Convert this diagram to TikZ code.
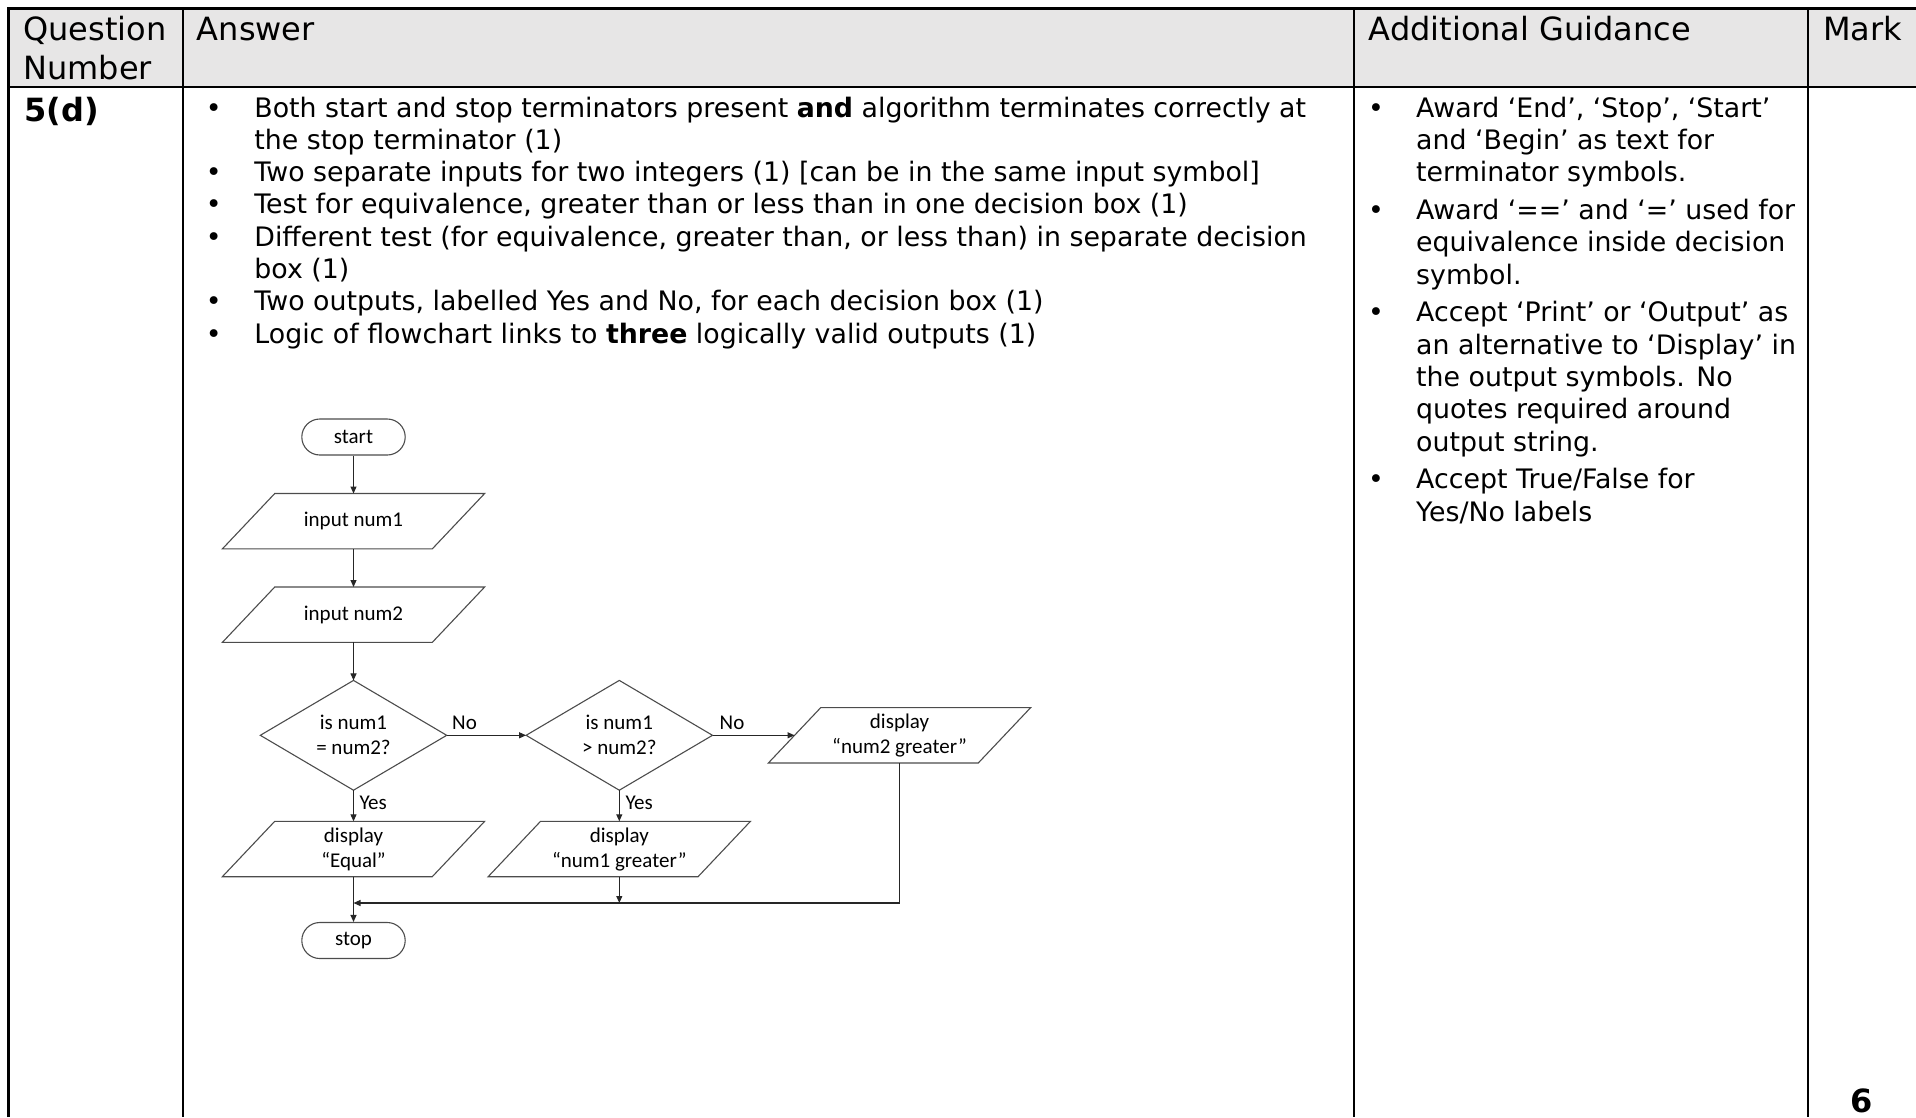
\documentclass[tikz,border=0pt]{standalone}
\usepackage{fontspec}
\setmainfont{DejaVu Sans}
\newfontfamily\fc{Carlito}
\usetikzlibrary{arrows.meta,calc}
\definecolor{hdr}{RGB}{231,230,230}
\tikzset{
  x=1pt,y=-1pt,
  txt/.style={anchor=base west, inner sep=0pt, font=\fontsize{26.8}{32}\selectfont},
  htxt/.style={anchor=base west, inner sep=0pt, font=\fontsize{32}{38}\selectfont},
  bul/.style={anchor=base, inner sep=0pt, font=\fontsize{26.8}{32}\selectfont},
  fbox/.style={inner sep=0pt, font=\fc\fontsize{21}{25}\selectfont, align=center},
  term/.style={fbox, draw=black!70, line width=1.1pt, rounded corners=18pt, minimum width=103.4pt, minimum height=36pt},
  pbox/.style={fbox, minimum width=209.5pt, minimum height=55pt},
  dbox/.style={fbox, minimum width=186pt, minimum height=109.4pt},
  shp/.style={draw=black!70, line width=1.1pt},
  conn/.style={draw=black!85, line width=1.1pt, -{Triangle[length=7pt,width=6pt]}},
  lbl/.style={font=\fc\fontsize{21}{25}\selectfont, inner sep=0pt},
  grid/.style={line width=2.5pt, black},
}
\newcommand\drawpara[1]{\draw[shp] ($(#1.north west)+(26.2,0)$) -- ($(#1.north east)+(26.2,0)$) -- ($(#1.south east)+(-26.2,0)$) -- ($(#1.south west)+(-26.2,0)$) -- cycle;}
\newcommand\drawdia[1]{\draw[shp] (#1.north) -- (#1.east) -- (#1.south) -- (#1.west) -- cycle;}
\begin{document}
\begin{tikzpicture}
\useasboundingbox (0,0) rectangle (1916,1117);
% table
\fill[hdr] (8.7,8.5) rectangle (1916,87);
\draw[grid] (8.7,1117) -- (8.7,8.5) -- (1916,8.5);
\draw[grid] (8.7,87) -- (1916,87);
\draw[grid] (183,8.5) -- (183,1117);
\draw[grid] (1354,8.5) -- (1354,1117);
\draw[grid] (1808,8.5) -- (1808,1117);
% header
\node[htxt] (hq) at (23.2,40.5) {Question};
\node[htxt] (hn) at (23.2,79) {Number};
\node[htxt] (ha) at (196.7,40.5) {Answer};
\node[htxt] (hg) at (1368.5,40.5) {Additional Guidance};
\node[htxt] (hm) at (1823,40.5) {Mark};
\node[htxt] (qn) at (24.4,121) {\bfseries 5(d)};
\node[htxt, anchor=base] (mk) at (1862,1112) {\bfseries 6};
% answer bullets
\node[bul] (ab1) at (213.8,117) {•};
\node[txt] (a1) at (254.2,117) {Both start and stop terminators present \textbf{and} algorithm terminates correctly at};
\node[txt] (a1b) at (254.2,149.3) {the stop terminator (1)};
\node[bul] (ab2) at (213.8,181.6) {•};
\node[txt] (a2) at (254.2,181.6) {Two separate inputs for two integers (1) [can be in the same input symbol]};
\node[bul] (ab3) at (213.8,213.9) {•};
\node[txt] (a3) at (254.2,213.9) {Test for equivalence, greater than or less than in one decision box (1)};
\node[bul] (ab4) at (213.8,246.2) {•};
\node[txt] (a4) at (254.2,246.2) {Different test (for equivalence, greater than, or less than) in separate decision};
\node[txt] (a4b) at (254.2,278.5) {box (1)};
\node[bul] (ab5) at (213.8,310.8) {•};
\node[txt] (a5) at (254.2,310.8) {Two outputs, labelled Yes and No, for each decision box (1)};
\node[bul] (ab6) at (213.8,343.1) {•};
\node[txt] (a6) at (254.2,343.1) {Logic of flowchart links to \textbf{three} logically valid outputs (1)};
% guidance bullets
\node[bul] (gb1) at (1376,117) {•};
\node[txt] (g1) at (1416,117) {Award ‘End’, ‘Stop’, ‘Start’};
\node[txt] (g1b) at (1416,149.3) {and ‘Begin’ as text for};
\node[txt] (g1c) at (1416,181.6) {terminator symbols.};
\node[bul] (gb2) at (1376,219.4) {•};
\node[txt] (g2) at (1416,219.4) {Award ‘==’ and ‘=’ used for};
\node[txt] (g2b) at (1416,251.7) {equivalence inside decision};
\node[txt] (g2c) at (1416,284) {symbol.};
\node[bul] (gb3) at (1376,321.8) {•};
\node[txt] (g3) at (1416,321.8) {Accept ‘Print’ or ‘Output’ as};
\node[txt] (g3b) at (1416,354.1) {an alternative to ‘Display’ in};
\node[txt] (g3c) at (1416,386.4) {the output symbols. No};
\node[txt] (g3d) at (1416,418.7) {quotes required around};
\node[txt] (g3e) at (1416,451) {output string.};
\node[bul] (gb4) at (1376,488.8) {•};
\node[txt] (g4) at (1416,488.8) {Accept True/False for};
\node[txt] (g4b) at (1416,521.1) {Yes/No labels};
% flowchart
\node[term] (start) at (353.5,437) {start};
\node[pbox] (in1) at (353.5,521.2) {input num1};
\node[pbox] (in2) at (353.5,614.7) {input num2};
\node[dbox] (d1) at (353.5,735.3) {is num1\\= num2?};
\node[dbox] (d2) at (619.3,735.3) {is num1\\> num2?};
\node[pbox] (o3) at (899.5,735.3) {display\\“num2 greater”};
\node[pbox] (o1) at (353.5,849) {display\\“Equal”};
\node[pbox] (o2) at (619.3,849) {display\\“num1 greater”};
\node[term] (stop) at (353.5,940.5) {stop};
\drawpara{in1}
\drawpara{in2}
\drawpara{o1}
\drawpara{o2}
\drawpara{o3}
\drawdia{d1}
\drawdia{d2}
\coordinate (j1) at (353.5,903);
\coordinate (j2) at (619.3,903);
\draw[conn] (start) -- (in1);
\draw[conn] (in1) -- (in2);
\draw[conn] (in2) -- (d1);
\draw[conn] (d1.east) -- (d2.west);
\draw[conn] (d2.east) -- (o3.west);
\draw[conn] (d1.south) -- (o1.north);
\draw[conn] (d2.south) -- (o2.north);
\draw[conn] (o1.south) -- (stop.north);
\draw[conn] (o2.south) -- (j2);
\draw[conn] (o3.south) |- (j1);
\node[lbl, anchor=west] (n1) at (452,723) {No};
\node[lbl, anchor=west] (n2) at (719.5,723) {No};
\node[lbl, anchor=west] (y1) at (359.3,803.3) {Yes};
\node[lbl, anchor=west] (y2) at (625.3,803.3) {Yes};
\end{tikzpicture}
\end{document}
